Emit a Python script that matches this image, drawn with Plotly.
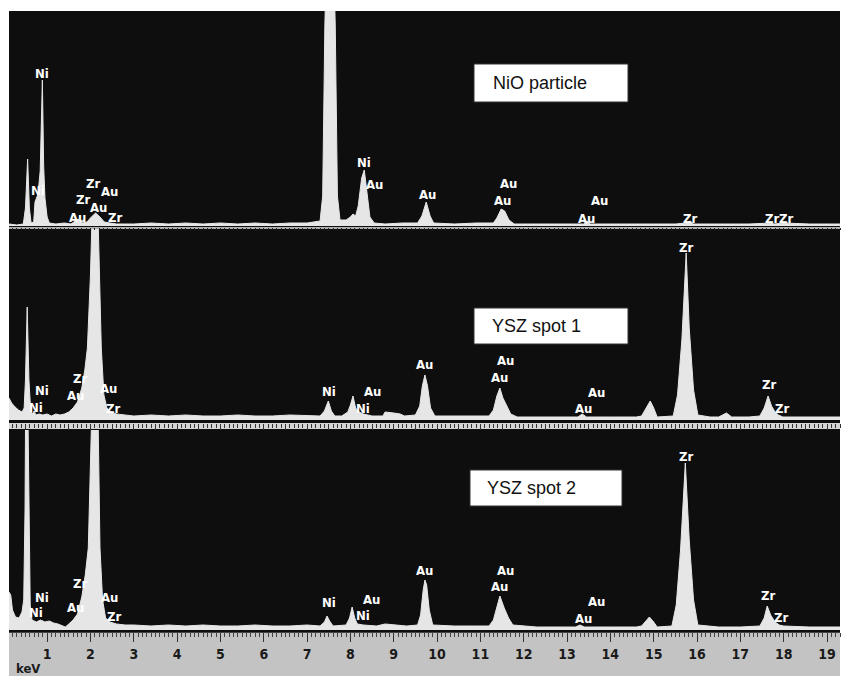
import plotly.graph_objects as go

# ---------------- data (energy in keV, intensity in arbitrary units) -------------
nio_kev = [0.12, 0.30, 0.45, 0.50, 0.55, 0.59, 0.63, 0.69, 0.72, 0.79, 0.84, 0.89, 0.92, 0.95, 1.00, 1.05,
           1.20, 1.40, 1.55, 1.65, 1.72, 1.80, 1.92, 2.02, 2.12, 2.22, 2.32, 2.45, 2.60, 3.0, 3.4, 3.8, 4.2,
           4.6, 5.0, 5.4, 5.8, 6.2, 6.6, 7.0, 7.2, 7.30, 7.36, 7.41, 7.53, 7.65, 7.70, 7.76, 7.90, 8.00, 8.06,
           8.12, 8.18, 8.26, 8.32, 8.38, 8.45, 8.55, 8.8, 9.2, 9.55, 9.65, 9.75, 9.84, 9.92, 10.4, 10.9, 11.3,
           11.38, 11.48, 11.56, 11.66, 11.78, 12.3, 12.9, 13.38, 13.46, 13.54, 14.2, 14.9, 15.5, 15.75, 15.84,
           15.92, 16.5, 17.2, 17.72, 17.78, 18.0, 18.6, 19.3]
nio_counts = [2, 1, 2, 18, 67, 18, 3, 4, 24, 32, 55, 146, 60, 28, 9, 3,
              2, 3, 2, 5, 7, 3, 4, 9, 13, 9, 4, 3, 2, 2, 3, 2, 3,
              2, 3, 2, 3, 2, 3, 3, 4, 5, 30, 200, 420, 200, 30, 6, 6, 9, 12,
              10, 20, 48, 56, 34, 9, 3, 2, 3, 3, 10, 24, 10, 3, 2, 3, 3,
              8, 17, 15, 6, 2, 2, 2, 2, 5, 2, 2, 2, 2, 3, 5,
              2, 2, 2, 3, 2, 3, 2, 2]

ysz1_kev = [0.12, 0.18, 0.26, 0.34, 0.42, 0.47, 0.50, 0.54, 0.58, 0.62, 0.66, 0.70, 0.74, 0.82, 0.9, 1.0,
            1.1, 1.2, 1.3, 1.4, 1.5, 1.6, 1.7, 1.80, 1.87, 1.93, 2.00, 2.04, 2.11, 2.18, 2.21, 2.25, 2.31,
            2.38, 2.46, 2.6, 2.8, 3.0, 3.4, 3.8, 4.2, 4.6, 5.0, 5.4, 5.8, 6.2, 6.6, 7.0, 7.3, 7.40, 7.49,
            7.56, 7.64, 7.80, 7.94, 8.00, 8.06, 8.12, 8.20, 8.30, 8.5, 8.75, 8.80, 9.0, 9.15, 9.25, 9.5,
            9.60, 9.66, 9.72, 9.78, 9.85, 9.95, 10.4, 10.9, 11.2, 11.30, 11.38, 11.45, 11.52, 11.60, 11.70,
            11.85, 12.4, 13.0, 13.25, 13.35, 13.45, 14.0, 14.6, 14.72, 14.82, 14.92, 15.00, 15.08, 15.45,
            15.55, 15.65, 15.75, 15.82, 15.92, 16.02, 16.3, 16.5, 16.68, 16.80, 17.2, 17.45, 17.55, 17.64,
            17.72, 17.80, 17.88, 17.98, 18.6, 19.3]
ysz1_counts = [22, 17, 13, 10, 8, 12, 40, 113, 40, 10, 6, 9, 5, 6, 5, 6,
               4, 6, 5, 6, 8, 12, 18, 32, 50, 72, 145, 195, 320, 195, 145, 72, 25,
               12, 8, 6, 5, 4, 5, 4, 5, 4, 4, 5, 4, 4, 5, 4, 4, 9, 19,
               9, 4, 4, 8, 15, 24, 12, 8, 6, 4, 4, 8, 7, 6, 4, 5,
               14, 34, 45, 34, 12, 4, 4, 4, 4, 10, 24, 32, 22, 15, 6,
               3, 3, 3, 3, 6, 3, 3, 3, 4, 11, 19, 12, 3, 4,
               25, 80, 167, 92, 30, 5, 3, 3, 7, 3, 3, 4, 12, 24,
               14, 8, 5, 3, 3, 3]

ysz2_kev = [0.12, 0.16, 0.20, 0.27, 0.35, 0.42, 0.46, 0.49, 0.52, 0.58, 0.61, 0.65, 0.75, 0.85, 0.95, 1.05,
            1.15, 1.25, 1.35, 1.42, 1.5, 1.6, 1.7, 1.80, 1.88, 1.95, 2.02, 2.10, 2.18, 2.22, 2.28, 2.35,
            2.45, 2.6, 2.8, 3.0, 3.4, 3.8, 4.2, 4.6, 5.0, 5.4, 5.8, 6.2, 6.6, 7.0, 7.3, 7.40, 7.46, 7.52,
            7.60, 7.9, 7.98, 8.04, 8.10, 8.16, 8.3, 8.6, 8.8, 9.0, 9.3, 9.55, 9.62, 9.68, 9.72, 9.76, 9.82,
            9.90, 10.4, 10.9, 11.2, 11.30, 11.40, 11.45, 11.55, 11.65, 11.75, 12.3, 12.9, 13.2, 13.3, 13.4,
            14.0, 14.6, 14.72, 14.80, 14.90, 15.00, 15.08, 15.42, 15.52, 15.62, 15.73, 15.82, 15.92, 16.02,
            16.5, 17.0, 17.45, 17.55, 17.62, 17.70, 17.80, 17.90, 18.0, 18.6, 19.3]
ysz2_counts = [38, 35, 20, 13, 12, 18, 30, 120, 350, 120, 25, 10, 8, 10, 8, 9,
               7, 6, 4, 3, 6, 10, 16, 33, 55, 82, 200, 330, 200, 82, 30, 12,
               8, 6, 5, 5, 4, 5, 4, 5, 4, 4, 5, 4, 4, 5, 4, 8, 14, 9,
               4, 5, 12, 23, 12, 6, 5, 4, 6, 5, 4, 5, 15, 40, 50, 45, 20,
               5, 4, 4, 4, 10, 26, 34, 22, 12, 5, 3, 3, 3, 5, 3,
               3, 3, 4, 8, 13, 8, 3, 4, 25, 80, 167, 90, 30, 5,
               3, 3, 4, 12, 24, 15, 8, 5, 4, 3, 3]

# peak identification labels: text, energy (keV), height (same units as the panel)
nio_lbl_text = ["Ni", "Ni", "Zr", "Au", "Zr", "Au", "Au", "Zr", "Ni", "Au", "Au", "Au", "Au", "Au", "Au",
                "Zr", "Zr", "Zr"]
nio_lbl_kev = [0.88, 0.78, 2.06, 2.43, 1.83, 2.18, 1.69, 2.57, 8.32, 8.55, 9.77, 11.64, 11.50, 13.46, 13.76,
               15.84, 17.72, 18.06]
nio_lbl_y = [153, 36, 43, 35, 27, 19, 9, 9, 64, 42, 32, 43, 26, 8, 26, 8, 8, 8]

ysz1_lbl_text = ["Ni", "Ni", "Zr", "Au", "Au", "Zr", "Ni", "Au", "Ni", "Au", "Au", "Au", "Au", "Au", "Zr",
                 "Zr", "Zr"]
ysz1_lbl_kev = [0.88, 0.75, 1.76, 1.65, 2.41, 2.52, 7.51, 8.50, 8.29, 9.70, 11.59, 11.45, 13.37, 13.69,
                15.75, 17.66, 17.96]
ysz1_lbl_y = [30, 13, 42, 25, 32, 12, 29, 29, 12, 56, 60, 43, 12, 28, 173, 36, 12]

ysz2_lbl_text = ["Ni", "Ni", "Zr", "Au", "Au", "Zr", "Ni", "Au", "Ni", "Au", "Au", "Au", "Au", "Au", "Zr",
                 "Zr", "Zr"]
ysz2_lbl_kev = [0.88, 0.75, 1.76, 1.65, 2.43, 2.55, 7.51, 8.48, 8.29, 9.70, 11.57, 11.43, 13.37, 13.69,
                15.75, 17.64, 17.94]
ysz2_lbl_y = [33, 18, 47, 23, 33, 14, 28, 31, 15, 60, 60, 44, 12, 29, 174, 35, 13]

panel_titles = ["NiO particle", "YSZ spot 1", "YSZ spot 2"]
tick_vals = list(range(1, 20))
tick_text = [str(v) for v in tick_vals]
x_unit = "keV"

# ---------------- layout helpers ----------------
W, H = 842, 676
ML, MR, MT, MB = 9, 2, 11, 0
PW, PH = W - ML - MR, H - MT - MB


def pxx(p):
    return (p - ML) / PW


def pxy(p):
    return (H - MB - p) / PH


FILL = "#e6e6e6"
BG = "#0e0e0e"
LBL_FONT = dict(family="DejaVu Sans Condensed, Liberation Sans Narrow, Arial Narrow, sans-serif",
                size=13, color="white", weight="bold")
XR = [0.12, 19.30]

fig = go.Figure()

panels = [
    ("x3", "y3", nio_kev, nio_counts, nio_lbl_text, nio_lbl_kev, nio_lbl_y),
    ("x2", "y2", ysz1_kev, ysz1_counts, ysz1_lbl_text, ysz1_lbl_kev, ysz1_lbl_y),
    ("x", "y", ysz2_kev, ysz2_counts, ysz2_lbl_text, ysz2_lbl_kev, ysz2_lbl_y),
]

annotations = []
for xa, ya, kev, cnt, lt, lk, ly in panels:
    fig.add_trace(go.Scatter(x=kev, y=cnt, xaxis=xa, yaxis=ya, mode="lines",
                             line=dict(color=FILL, width=1), fill="tozeroy", fillcolor=FILL,
                             hoverinfo="skip", showlegend=False))
    for t, k, yv in zip(lt, lk, ly):
        annotations.append(dict(x=k, y=yv, xref=xa, yref=ya, text=t, showarrow=False,
                                font=LBL_FONT, xanchor="center", yanchor="middle"))

# title boxes
boxes = [(474, 628, 64, 102, 491), (474, 628, 308, 344, 490), (470, 622, 470, 506, 485)]
shapes = [
    dict(type="rect", xref="paper", yref="paper", x0=0, x1=1, y0=pxy(632), y1=pxy(11),
         fillcolor=BG, line=dict(width=0), layer="below"),
    dict(type="rect", xref="paper", yref="paper", x0=0, x1=1, y0=pxy(676), y1=pxy(632),
         fillcolor="#c3c3c3", line=dict(width=0), layer="below"),
    dict(type="rect", xref="paper", yref="paper", x0=0, x1=1, y0=pxy(229), y1=pxy(227),
         fillcolor="#b0b0b0", line=dict(width=0), layer="below"),
    dict(type="rect", xref="paper", yref="paper", x0=0, x1=1, y0=pxy(429), y1=pxy(423),
         fillcolor="#d4d4d4", line=dict(width=0), layer="below"),
]
for (x0, x1, y0, y1, tx), title in zip(boxes, panel_titles):
    shapes.append(dict(type="rect", xref="paper", yref="paper", x0=pxx(x0), x1=pxx(x1),
                       y0=pxy(y1), y1=pxy(y0), fillcolor="white",
                       line=dict(color="#333333", width=1), layer="above"))
    annotations.append(dict(x=pxx(tx), y=pxy((y0 + y1) / 2), xref="paper", yref="paper", text=title,
                            showarrow=False, xanchor="left", yanchor="middle",
                            font=dict(family="Liberation Sans, Arial, sans-serif", size=18, color="#111111")))

annotations.append(dict(x=pxx(14), y=pxy(668), xref="paper", yref="paper", text=x_unit, showarrow=False,
                        xanchor="left", yanchor="middle",
                        font=dict(family="DejaVu Sans Condensed, Liberation Sans Narrow, sans-serif",
                                  size=13, color="#1a1a1a", weight="bold")))

common_x = dict(range=XR, showgrid=False, zeroline=False, tick0=0)

fig.update_layout(
    width=W, height=H,
    margin=dict(l=ML, r=MR, t=MT, b=MB, pad=0),
    paper_bgcolor="white", plot_bgcolor="rgba(0,0,0,0)",
    showlegend=False,
    xaxis=dict(**common_x, anchor="y", tickmode="array", tickvals=tick_vals, ticktext=tick_text,
               ticks="outside", ticklen=9, tickwidth=1, tickcolor="#333333",
               showline=True, linecolor="#444444", linewidth=1,
               minor=dict(ticks="outside", dtick=0.1, tick0=0, ticklen=4, tickcolor="#444444", tickwidth=1),
               tickfont=dict(family="DejaVu Sans Condensed, Liberation Sans Narrow, Arial Narrow, sans-serif",
                             size=14, color="#1a1a1a", weight="bold")),
    xaxis2=dict(**common_x, anchor="y2", matches="x", showticklabels=False,
                ticks="outside", dtick=0.5, ticklen=6, tickcolor="#333333", tickwidth=1,
                minor=dict(ticks="outside", dtick=0.1, tick0=0, ticklen=4, tickcolor="#333333", tickwidth=1)),
    xaxis3=dict(**common_x, anchor="y3", matches="x", showticklabels=False,
                ticks="outside", dtick=0.5, ticklen=2, tickcolor="#222222", tickwidth=1,
                minor=dict(ticks="outside", dtick=0.1, tick0=0, ticklen=2, tickcolor="#222222", tickwidth=1)),
    yaxis=dict(domain=[pxy(632), pxy(430)], range=[-2, 200], visible=False, fixedrange=True),
    yaxis2=dict(domain=[pxy(423), pxy(229)], range=[-3, 191], visible=False, fixedrange=True),
    yaxis3=dict(domain=[pxy(227), pxy(11)], range=[-1, 215], visible=False, fixedrange=True),
    shapes=shapes,
    annotations=annotations,
)

fig.write_html("out.html", config={"displayModeBar": False},
               post_script="document.body.style.margin='0px';document.body.style.overflow='hidden';")
